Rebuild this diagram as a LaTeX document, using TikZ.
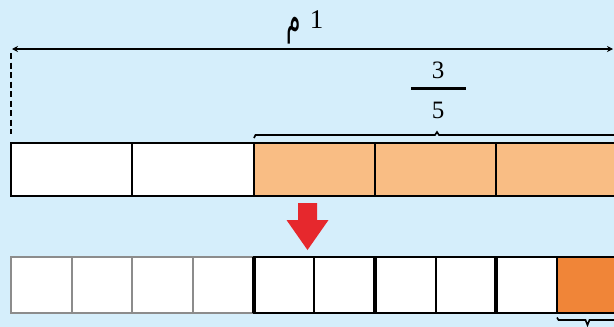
\documentclass[tikz,border=0pt]{standalone}
\usepackage{fontspec}
\setmainfont{Liberation Serif}
\newfontfamily\arabicfont[Script=Arabic]{DejaVu Sans}
\TeXXeTstate=1
\usetikzlibrary{arrows.meta}
\definecolor{bg}{RGB}{213,238,251}
\definecolor{lightor}{RGB}{249,189,132}
\definecolor{darkor}{RGB}{240,133,56}
\definecolor{redarr}{RGB}{230,40,45}
\definecolor{grayln}{RGB}{140,140,140}
\tikzset{
  topcell/.style={draw=black, line width=2.1pt, minimum width=121.3pt, minimum height=53pt, inner sep=0pt, outer sep=0pt, anchor=north west, fill=white},
  botcell/.style={draw=black, line width=2.1pt, minimum width=60.65pt, minimum height=56pt, inner sep=0pt, outer sep=0pt, anchor=north west, fill=white},
  graycell/.style={botcell, draw=grayln, line width=2pt},
  thick divider/.style={line width=4pt, black},
  numtext/.style={font=\fontsize{25}{28}\selectfont, inner sep=0pt, anchor=base},
  measure/.style={line width=1.6pt, black},
}
\begin{document}
\begin{tikzpicture}[x=1pt,y=-1pt]
\fill[bg] (0,0) rectangle (614,327);
\useasboundingbox (0,0) rectangle (614,327);
% top bar
\foreach \i/\c in {0/white,1/white,2/lightor,3/lightor,4/lightor}
  \node[topcell, fill=\c] (t\i) at ({11+121.3*\i},143) {};
% bottom bar
\foreach \i in {0,...,3}
  \node[graycell] (b\i) at ({11+60.65*\i},257) {};
\foreach \i in {4,...,8}
  \node[botcell] (b\i) at ({11+60.65*\i},257) {};
\node[botcell, fill=darkor] (b9) at ({11+60.65*9},257) {};
\draw[thick divider] (b4.north west) -- (b4.south west);
\draw[thick divider] (b6.north west) -- (b6.south west);
\draw[thick divider] (b8.north west) -- (b8.south west);
% 1 m arrow
\coordinate (aL) at (12,49);
\coordinate (aR) at (613,49);
\draw[line width=1.8pt, {Stealth[length=6pt,width=6pt]}-{Stealth[length=6pt,width=6pt]}] (aL) -- (aR);
\node[inner sep=0pt, anchor=base] (lab) at (305,28) {\raisebox{-5pt}{\scalebox{0.9}[1.7]{\arabicfont\fontsize{26}{30}\selectfont\beginR م\endR}}\hspace{9pt}{\fontsize{27}{30}\selectfont 1}};
% dashed line
\coordinate (dT) at (11,53);
\coordinate (dB) at (11,134);
\draw[line width=1.8pt, dash pattern=on 6pt off 3.5pt] (dT) -- (dB);
% fraction 3/5
\node[numtext] (n3) at (438,78) {3};
\node[numtext] (n5) at (438,118) {5};
\coordinate (fL) at (411,88);
\coordinate (fR) at (466,88);
\draw[line width=3pt] (fL) -- (fR);
% top brace
\draw[measure] (254,138) -- (255.5,135) -- (435,135) -- (437,132) -- (439,135) -- (620,135);
% bottom brace
\draw[measure] (557,317.5) -- (558.5,320) -- (585.5,320) -- (587.5,325) -- (589.5,320) -- (620,320);
% red arrow
\fill[redarr] (298,203) -- (317,203) -- (317,220) -- (328.5,220) -- (307.5,250) -- (286.5,220) -- (298,220) -- cycle;
\end{tikzpicture}
\end{document}
